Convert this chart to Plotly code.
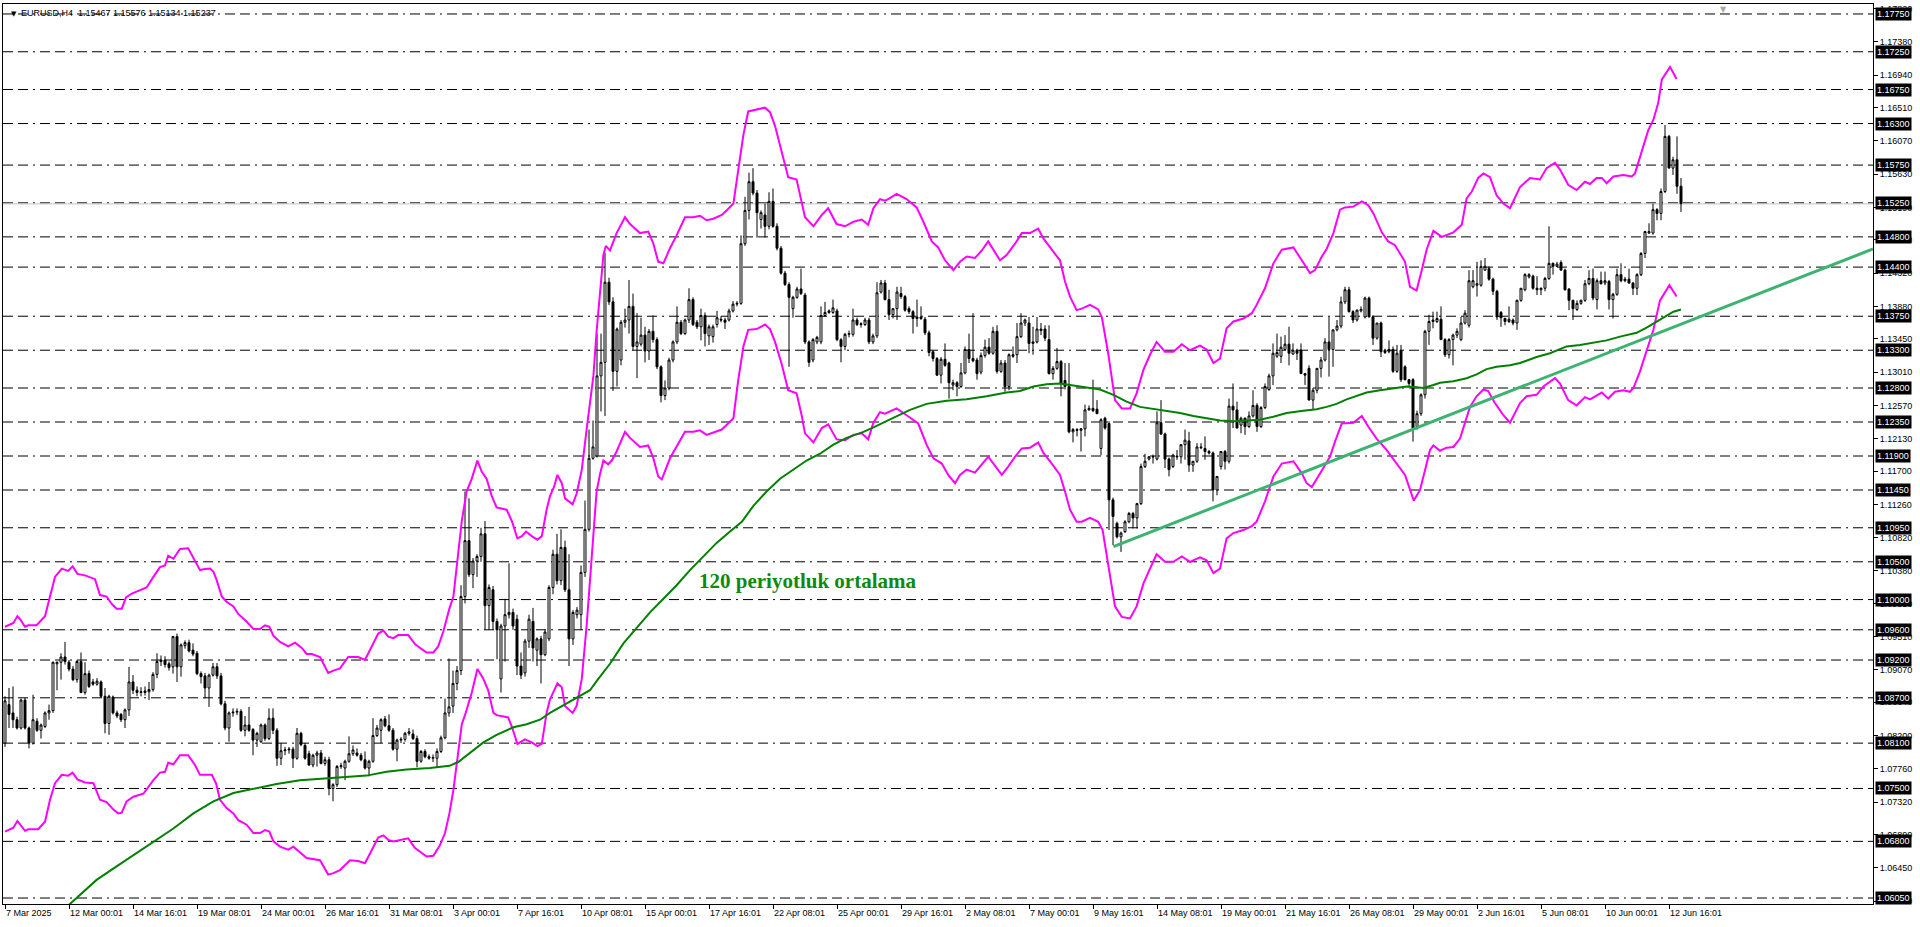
import plotly.graph_objects as go

PIP = 10000.0  # prices below are stored in pips (price * 10000)

opens = [
10810,10861,10850,10841,10830,10867,10830,10810,10839,10827,
10832,10850,10853,10915,10917,10924,10917,10908,10894,10918,
10877,10902,10891,10888,10891,10872,10836,10871,10850,10848,
10841,10854,10891,10880,10877,10877,10878,10881,10901,10918,
10920,10915,10911,10951,10911,10939,10943,10933,10929,10902,
10899,10883,10900,10911,10899,10862,10830,10850,10851,10852,
10827,10834,10828,10814,10812,10834,10816,10843,10827,10790,
10800,10801,10802,10790,10823,10807,10796,10781,10794,10797,
10783,10788,10750,10755,10779,10777,10786,10796,10797,10794,
10788,10777,10786,10820,10827,10842,10833,10827,10802,10814,
10815,10823,10822,10816,10786,10799,10792,10790,10790,10799,
10817,10850,10859,10889,10906,11004,11078,11033,11051,11057,
11087,10992,11013,10971,10895,10965,10980,10983,10974,10912,
10903,10945,10971,10933,10948,10927,10948,11016,11060,11025,
11069,11013,10948,10980,10980,11036,11093,11187,11190,11296,
11314,11420,11394,11302,11317,11367,11370,11388,11335,11338,
11350,11329,11355,11344,11308,11270,11280,11317,11341,11367,
11352,11370,11397,11367,11361,11376,11349,11348,11364,11371,
11370,11370,11382,11391,11392,11471,11515,11553,11538,11503,
11509,11494,11527,11494,11465,11432,11417,11385,11400,11411,
11403,11341,11317,11341,11341,11376,11380,11380,11382,11344,
11335,11351,11351,11370,11364,11364,11370,11341,11349,
11407,11419,11397,11377,11385,11405,11401,11385,11381,11372,
11374,11371,11353,11328,11319,11297,11318,11313,11284,11287,
11282,11300,11331,11319,11317,11301,11323,11334,11326,11355,
11302,11313,11282,11324,11324,11348,11366,11366,11339,11341,
11356,11358,11344,11299,11306,11315,11290,11282,11222,11225,
11224,11226,11251,11253,11252,11200,11240,11233,11132,11101,
11083,11090,11103,11114,11108,11127,11176,11186,11189,11186,
11234,11219,11186,11176,11190,11189,11205,11210,11178,11183,
11202,11200,11196,11194,11145,11176,11196,11183,11256,11251,
11231,11240,11229,11243,11257,11229,11254,11278,11296,11322,
11322,11331,11338,11325,11330,11330,11299,11306,
11264,11277,11306,11317,11341,11331,11357,11362,11394,11410,
11381,11370,11382,11374,11399,11374,11346,11366,11330,11328,
11331,11302,11330,11308,11291,11291,11229,11246,11271,11355,
11370,11368,11371,11344,11324,11344,11350,11344,11366,11363,
11414,11416,11416,11436,11438,11424,11408,11380,11372,11368,
11370,11366,11396,11410,11427,11428,11412,11410,11412,11425,
11445,11441,11446,11436,11411,11396,11384,11392,11396,11418,
11425,11397,11422,11419,11421,11397,11404,11430,11422,11424,
11419,11412,11430,11458,11485,11485,11516,11511,11540,11613,
11571,11582,11547]

highs = [
10872,10883,10885,10845,10869,10870,10832,10874,10843,10836,
10852,10861,10918,10918,10929,10944,10920,10912,10920,10930,
10917,10906,10895,10896,10893,10883,10874,10873,10853,10850,
10856,10911,10900,10885,10884,10885,10891,10904,10929,10926,
10925,10918,10952,10955,10942,10946,10947,10942,10932,10905,
10903,10902,10916,10916,10903,10866,10852,10856,10856,10855,
10846,10858,10830,10825,10836,10836,10856,10856,10830,10810,
10805,10805,10805,10830,10825,10810,10800,10796,10800,10801,
10792,10792,10757,10781,10784,10788,10819,10807,10803,10797,
10799,10788,10843,10834,10843,10846,10848,10830,10816,10818,
10825,10830,10828,10820,10801,10802,10795,10795,10803,10820,
10869,10922,10906,10912,11019,11143,11134,11055,11060,11095,
11104,11020,11018,10975,10968,11001,11048,10988,10980,10930,
10948,10980,10989,10950,10952,10960,11019,11066,11087,11093,
11078,11060,10986,10990,11045,11131,11225,11237,11352,11352,
11459,11426,11400,11360,11370,11385,11423,11405,11379,11373,
11361,11358,11376,11347,11310,11290,11320,11343,11388,11370,
11372,11412,11400,11370,11385,11380,11364,11364,11382,11375,
11373,11385,11395,11395,11482,11533,11565,11571,11542,11515,
11524,11539,11544,11498,11468,11435,11420,11402,11414,11438,
11406,11343,11346,11349,11388,11394,11384,11397,11385,11346,
11353,11356,11385,11373,11367,11373,11373,11352,11420,
11423,11423,11410,11385,11414,11414,11403,11388,11383,11397,
11388,11374,11356,11330,11321,11321,11339,11315,11291,11289,
11313,11335,11352,11379,11320,11327,11344,11346,11361,11363,
11317,11317,11326,11335,11366,11379,11372,11374,11361,11374,
11366,11363,11363,11309,11333,11317,11313,11313,11227,11227,
11227,11258,11257,11291,11264,11240,11242,11236,11135,11103,
11090,11105,11116,11116,11128,11180,11193,11190,11192,11249,
11264,11221,11188,11193,11198,11205,11225,11222,11183,11207,
11207,11216,11198,11196,11163,11196,11198,11266,11286,11262,
11242,11241,11249,11277,11260,11256,11286,11299,11339,11352,
11348,11350,11361,11339,11332,11339,11300,11310,
11280,11306,11321,11346,11374,11357,11370,11401,11414,11414,
11383,11384,11388,11401,11401,11376,11366,11368,11332,11343,
11335,11337,11337,11310,11292,11293,11250,11273,11357,11377,
11381,11381,11388,11346,11346,11352,11359,11374,11383,11436,
11436,11447,11449,11452,11441,11426,11410,11382,11373,11388,
11372,11397,11412,11432,11432,11430,11428,11413,11427,11494,
11446,11447,11449,11438,11412,11397,11396,11397,11423,11436,
11438,11425,11434,11434,11423,11406,11438,11445,11427,11438,
11420,11432,11460,11488,11498,11524,11518,11544,11628,11615,
11586,11613,11558]

lows = [
10805,10830,10830,10828,10828,10828,10803,10808,10825,10816,
10830,10841,10850,10880,10894,10914,10905,10892,10890,10876,
10874,10883,10886,10886,10870,10823,10821,10848,10843,10838,
10830,10846,10875,10872,10872,10873,10867,10878,10896,10912,
10910,10906,10902,10891,10898,10935,10930,10925,10900,10889,
10869,10858,10898,10895,10860,10827,10812,10845,10847,10825,
10819,10825,10794,10805,10810,10813,10814,10822,10780,10781,
10794,10796,10777,10788,10806,10788,10780,10778,10779,10782,
10780,10741,10733,10752,10776,10761,10784,10793,10792,10786,
10775,10766,10784,10818,10810,10831,10825,10800,10786,10810,
10812,10820,10814,10778,10784,10790,10788,10785,10778,10797,
10815,10845,10850,10880,10900,10995,11030,11015,11030,11050,
10960,10960,10960,10921,10877,10918,10975,10960,10900,10895,
10898,10936,10918,10912,10889,10925,10945,11007,11020,11019,
11010,10912,10940,10975,10960,11030,11090,11185,11188,11249,
11243,11390,11276,11282,11310,11360,11352,11330,11293,11335,
11314,11317,11340,11305,11261,11264,11277,11314,11338,11350,
11350,11366,11362,11358,11343,11335,11337,11340,11360,11367,
11358,11368,11380,11388,11390,11468,11503,11535,11479,11491,
11479,11490,11492,11462,11430,11415,11308,11373,11398,11403,
11338,11308,11314,11338,11338,11374,11378,11378,11342,11314,
11330,11347,11348,11362,11360,11362,11338,11338,11346,
11405,11396,11370,11372,11370,11398,11381,11378,11352,11361,
11370,11350,11322,11315,11296,11286,11308,11266,11277,11269,
11280,11298,11313,11314,11291,11298,11320,11324,11324,11299,
11300,11275,11277,11320,11313,11346,11362,11326,11324,11339,
11350,11342,11298,11291,11304,11269,11278,11220,11208,11216,
11196,11216,11250,11248,11246,11191,11225,11092,11072,11081,
11063,11088,11101,11094,11094,11125,11174,11184,11180,11184,
11218,11174,11163,11174,11185,11180,11185,11169,11169,11181,
11199,11185,11192,11130,11138,11172,11172,11180,11227,11227,
11220,11218,11227,11241,11222,11227,11252,11276,11284,11320,
11313,11330,11310,11324,11317,11299,11284,11264,
11251,11273,11294,11315,11295,11308,11355,11359,11391,11380,
11366,11368,11380,11372,11374,11337,11344,11321,11325,11326,
11300,11300,11288,11290,11282,11209,11225,11243,11266,11337,
11359,11366,11344,11321,11319,11310,11346,11342,11364,11360,
11412,11401,11414,11435,11422,11403,11370,11361,11363,11366,
11363,11357,11394,11408,11425,11410,11403,11403,11408,11423,
11430,11440,11435,11409,11383,11370,11382,11390,11394,11416,
11396,11384,11417,11416,11384,11372,11402,11420,11420,11418,
11403,11403,11428,11452,11484,11483,11502,11502,11538,11571,
11562,11537,11513]

closes = [
10866,10848,10841,10830,10867,10830,10810,10841,10827,10834,
10850,10853,10917,10917,10924,10918,10908,10894,10918,10877,
10902,10885,10888,10892,10872,10836,10872,10850,10846,10841,
10854,10891,10880,10877,10878,10879,10881,10901,10918,10920,
10914,10910,10951,10911,10940,10943,10932,10928,10902,10898,
10883,10900,10911,10899,10862,10830,10850,10851,10852,10827,
10834,10827,10814,10823,10834,10816,10843,10827,10790,10800,
10801,10802,10790,10823,10808,10790,10781,10794,10797,10783,
10788,10750,10755,10779,10780,10786,10796,10801,10794,10788,
10777,10786,10820,10830,10841,10833,10827,10802,10814,10815,
10823,10825,10816,10786,10799,10792,10790,10791,10799,10817,
10850,10858,10889,10906,11004,11078,11033,11051,11057,11087,
10992,11016,10971,10960,10965,10980,10983,10965,10912,10900,
10945,10974,10936,10948,10927,10957,11016,11060,11025,11069,
11013,10948,10983,10986,11036,11093,11187,11202,11296,11314,
11420,11394,11302,11358,11367,11370,11388,11335,11341,11350,
11329,11355,11344,11308,11270,11280,11317,11341,11367,11352,
11370,11397,11364,11361,11376,11352,11361,11361,11373,11370,
11367,11382,11391,11392,11471,11515,11553,11538,11512,11512,
11494,11527,11494,11465,11432,11417,11400,11400,11411,11405,
11341,11314,11344,11347,11376,11380,11382,11386,11344,11335,
11351,11352,11370,11364,11365,11370,11341,11349,11406,
11419,11397,11377,11385,11407,11401,11383,11381,11372,11374,
11372,11353,11327,11319,11297,11318,11310,11287,11287,11282,
11300,11331,11319,11316,11299,11323,11334,11326,11355,11302,
11313,11282,11324,11322,11348,11366,11370,11339,11341,11358,
11358,11346,11299,11306,11315,11286,11282,11222,11225,11224,
11226,11251,11253,11250,11246,11238,11227,11132,11110,11083,
11088,11103,11114,11108,11127,11176,11183,11189,11189,11234,
11219,11186,11172,11191,11189,11205,11211,11178,11183,11202,
11201,11196,11194,11145,11163,11196,11183,11256,11251,11227,
11240,11229,11243,11257,11229,11254,11282,11296,11326,11327,
11334,11338,11326,11330,11326,11299,11297,11264,
11277,11306,11317,11341,11331,11357,11362,11394,11410,11381,
11370,11383,11384,11399,11374,11346,11366,11328,11327,11331,
11302,11326,11291,11291,11286,11227,11246,11271,11355,11368,
11368,11372,11344,11324,11344,11350,11355,11366,11379,11422,
11422,11418,11441,11441,11424,11408,11374,11373,11368,11371,
11366,11396,11412,11430,11430,11412,11410,11412,11425,11445,
11441,11444,11436,11410,11396,11385,11392,11396,11418,11425,
11399,11422,11418,11422,11397,11404,11430,11422,11424,11419,
11412,11430,11458,11487,11487,11516,11511,11540,11613,11571,
11582,11547,11524]

# Bollinger upper band (bar index, pips)
upper_bar = [0,2.1,3.1,3.9,5,5.8,7.9,10,11.25,12.5,14.2,15.8,16.9,18.1,20,22.5,23.75,25.4,26.7,27.9,29.2,30.25,31.7,33.75,35.4,37.1,38.75,40,40.8,42.1,43.75,45.8,47.5,48.75,49.6,51.25,52.1,52.9,54.2,55.4,57.1,58.3,60.4,62.1,63.75,65,66.1,67.1,68.75,70.8,72.5,74.2,75.4,76.7,78.75,80.8,82.1,83.75,85.8,88.3,90,91.25,93.3,94.6,95.8,97.1,98.3,100.8,102.5,103.75,105.4,107.1,108.3,109.6,111.1,112.1,113.3,114.2,115.4,116.7,118.1,119.2,120.4,121.7,122.9,125.4,126.7,128.1,129.2,130.25,131.7,133.1,134.2,135.4,136.25,137.25,138.1,139.2,140,141.9,142.9,144.2,145.4,146.25,147.1,147.9,148.75,149.6,150.2,151.25,152.9,155,156.25,158.75,160.8,162.1,163.3,164.6,166.25,167.9,170,172.1,173.75,175.4,177.1,179.2,180.4,182.1,183.3,184.6,185.8,187.9,190,191.25,192.5,194.2,195.8,197.9,199.2,200,202.1,204.2,205.8,207.9,210,212.1,214.2,215.8,217.1,218.75,220,220.8,222.9,225.4,227.9,229.6,231.7,233.3,235,237.1,238.75,240.4,242.5,244.2,245.8,247.1,248.75,250.4,252.5,254.2,256.25,258.3,259.6,261.7,263.75,265,266.25,267.9,269.2,271.25,273.3,274.2,275.8,277.5,279.2,281.25,282.9,284.6,286.25,287.9,290,292.1,294.2,296.25,298.75,300.4,302.1,303.75,305.4,307.1,309.6,311.7,312.9,315,317.1,319.2,322.1,324.2,326.25,327.5,329.2,330.4,332.1,333.75,335,337.1,339.2,340.8,342.1,344.2,345.8,347.5,350,351.25,352.9,354.2,355.4,357.1,359.2,362.1,364.2,365.4,366.7,368.3,369.6,371.25,372.9,374.6,376.25,378.75,381.25,383.75,385.4,387.5,388.75,390.8,392.9,395,396.25,397.9,399.2,400.4,402.1,404.6,406.7,407.5,409.2,410.8,412.1,413.3,414.2,416.25,417.9]
upper_pips = [10964,10969,10978,10973,10964,10966,10966,10978,11004,11030,11041,11038,11044,11034,11032,11027,11006,11004,10994,10988,10988,11003,11008,11012,11016,11030,11043,11045,11058,11054,11067,11068,11052,11039,11040,11041,11037,11026,11004,10997,10991,10981,10971,10961,10961,10966,10964,10952,10944,10938,10943,10936,10928,10928,10924,10903,10906,10909,10924,10924,10920,10933,10955,10959,10951,10949,10953,10953,10941,10936,10930,10930,10938,10958,10988,11004,11066,11104,11143,11160,11184,11169,11160,11137,11122,11119,11104,11081,11084,11090,11084,11079,11084,11119,11137,11149,11165,11154,11134,11126,11140,11172,11225,11261,11296,11355,11409,11456,11468,11462,11485,11506,11497,11485,11487,11471,11447,11445,11465,11482,11506,11506,11508,11502,11504,11509,11515,11524,11568,11615,11646,11648,11651,11645,11627,11592,11559,11556,11527,11506,11494,11509,11518,11497,11494,11500,11503,11496,11518,11530,11528,11530,11537,11530,11519,11500,11474,11466,11449,11436,11447,11454,11452,11462,11474,11463,11449,11456,11471,11485,11485,11491,11478,11463,11449,11421,11401,11383,11385,11390,11384,11374,11326,11264,11253,11253,11273,11304,11324,11341,11328,11328,11338,11330,11336,11331,11313,11319,11359,11368,11372,11379,11390,11412,11445,11463,11466,11449,11432,11436,11454,11464,11485,11516,11519,11520,11527,11522,11511,11486,11474,11469,11447,11414,11409,11436,11463,11488,11480,11486,11496,11531,11540,11558,11564,11559,11535,11524,11518,11546,11558,11556,11571,11578,11569,11549,11542,11553,11550,11558,11558,11551,11560,11562,11560,11564,11595,11621,11635,11657,11688,11705,11689]

# Bollinger lower band (bar index, pips)
lower_bar = [0,2.1,3.1,5,5.8,8.3,10,11.25,12.5,14.2,15.8,16.9,18.1,20,22.1,23.75,25.4,27.1,28.3,29.2,30.4,32.1,34.6,35.8,37.1,38.75,40,40.8,42.1,43.75,45.8,47.5,48.75,51.7,52.75,53.75,55.4,57.1,58.3,60.4,62.1,63.75,65,66.1,67.1,68.75,70.8,72.1,74.2,75.4,78.75,80.8,82.1,83.75,86.25,88.3,90,91.25,93.3,94.6,95.8,97.1,100.8,102.5,104.2,105.4,107.1,108.75,110,111.1,112.1,114.2,115,116.7,118.1,119.6,120.8,122.1,122.9,125.8,126.7,128.1,130,131.7,133.1,134.2,135.4,136.25,138.1,139.2,140,141.9,142.9,144.2,145.4,146.25,147.1,147.9,148.75,149.6,150.8,151.7,152.9,155,156.25,158.75,160.8,162.1,163.3,164.2,166.25,167.9,170,172.1,173.75,175.4,177.1,179.2,180.4,182.1,183.3,184.6,185.8,187.9,190,191.25,192.5,194.2,195.8,197.9,199.2,200,202.1,204.2,205.8,207.9,210,212.1,214.2,215.8,217.1,218.75,220,222.9,225.4,228.3,230.4,232.1,234.2,235.8,237.5,238.75,240.4,242.5,244.2,245.8,247.1,249.2,250.8,252.5,254.2,256.25,258.3,259.6,261.7,263.75,265,266.25,267.9,269.2,271.25,273.3,274.4,275.8,277.5,279.2,281.25,282.9,284.6,286.25,287.9,290,292.1,294.2,296.25,298.75,300.4,302.1,303.75,305.4,307.1,309.6,311.7,312.9,315,317.1,319.2,322.1,324.2,325.4,326.7,328.3,329.6,331.25,332.5,334.2,337.1,339.2,340.8,342.9,345.4,347.9,350,352.2,353.75,355,356.25,357.1,358.75,360.4,362.1,363.75,365,366.25,367.9,369.6,370.8,372.5,374.6,376.25,378.75,380.4,382.9,384.6,387.5,388.75,390.8,392.9,395,396.25,399.2,400.8,402.5,404.6,406.25,407.1,408.75,410.4,412.1,413.75,416.1,417.9]
lower_pips = [10693,10698,10707,10694,10696,10696,10706,10735,10757,10768,10767,10771,10762,10758,10757,10735,10732,10722,10717,10718,10733,10739,10743,10752,10761,10771,10772,10784,10782,10794,10794,10781,10768,10768,10757,10735,10724,10717,10708,10702,10691,10691,10695,10693,10680,10673,10669,10673,10664,10658,10655,10636,10638,10642,10655,10654,10651,10664,10685,10688,10682,10680,10684,10671,10664,10660,10661,10675,10691,10717,10748,10835,10847,10877,10908,10895,10880,10850,10847,10844,10832,10809,10815,10811,10806,10809,10850,10868,10889,10884,10859,10850,10859,10895,10965,11024,11084,11143,11166,11184,11179,11184,11196,11222,11214,11202,11204,11187,11163,11159,11187,11202,11222,11222,11224,11218,11221,11225,11231,11240,11290,11335,11357,11358,11364,11358,11341,11311,11277,11273,11243,11220,11208,11227,11232,11212,11211,11218,11220,11212,11234,11248,11246,11253,11244,11233,11205,11187,11180,11165,11154,11165,11172,11168,11179,11189,11180,11165,11176,11189,11200,11201,11208,11194,11180,11165,11143,11119,11103,11103,11108,11103,11092,11044,10991,10977,10975,10991,11021,11041,11060,11050,11050,11057,11050,11056,11052,11035,11041,11081,11088,11092,11097,11103,11130,11163,11180,11183,11167,11154,11149,11163,11174,11189,11209,11233,11234,11243,11229,11213,11198,11180,11165,11131,11145,11171,11198,11204,11197,11201,11202,11213,11233,11255,11269,11278,11276,11260,11244,11234,11260,11269,11271,11282,11293,11286,11264,11257,11268,11265,11274,11266,11275,11277,11275,11280,11302,11328,11357,11396,11416,11401]

# 120-period moving average (bar index, pips)
ma_bar = [16,22.9,27.9,32.1,37.1,42.1,47.1,52.1,57.1,62.1,67.9,73.75,78.75,83.75,90.4,95.4,100.4,106.25,111.1,113.3,116.25,119.6,122.9,127.1,130.4,133.75,136.25,139.6,142.9,146.25,147.9,151.25,154.6,157.9,161.25,164.6,167.9,171.25,174.6,177.9,181.25,184.2,187.1,190.4,193.75,197.1,200.4,203.75,207.1,210.4,214.6,217.1,222.1,226.25,230.4,235.4,240.4,245.4,250.4,253.75,257.1,260.4,263.75,267.1,270.4,273.75,277.1,280.4,283.75,287.1,290.4,293.75,297.1,300.4,303.75,307.1,310.4,313.75,317.1,320.4,324.6,327.9,330.4,332.9,335.4,337.9,340.4,343.75,347.1,350.4,352.9,354.6,357.1,358.75,362.1,365.4,367.9,370.4,372.9,376.25,378.75,380.4,382.9,386.25,387.9,390.4,393.75,397.1,400.4,403.75,407.9,410.4,412.9,415.4,417.1,419]
ma_pips = [10596,10629,10647,10662,10680,10697,10717,10733,10744,10750,10756,10761,10763,10764,10767,10772,10775,10777,10780,10785,10797,10811,10821,10831,10835,10841,10850,10860,10870,10880,10892,10915,10942,10962,10983,11001,11019,11039,11057,11075,11090,11103,11124,11143,11160,11172,11184,11193,11205,11214,11222,11228,11241,11251,11259,11263,11265,11269,11274,11276,11282,11285,11286,11283,11281,11278,11271,11262,11255,11252,11250,11247,11243,11240,11237,11236,11237,11238,11242,11247,11250,11252,11255,11259,11265,11269,11274,11277,11280,11282,11281,11280,11284,11287,11289,11293,11298,11305,11308,11310,11313,11316,11321,11326,11330,11335,11337,11340,11343,11348,11353,11360,11368,11375,11381,11384]

# Trend line anchors (bar index, pips)
trend_bar = [277.1, 467.0]
trend_pips = [11070, 11464]

# Horizontal price levels (dash-dot lines with black price boxes)
levels = [1.1775, 1.1725, 1.1675, 1.1630, 1.1575, 1.1525, 1.1480, 1.1440, 1.1375, 1.1330,
          1.1280, 1.1235, 1.1190, 1.1145, 1.1095, 1.1050, 1.1000, 1.0960, 1.0920, 1.0870,
          1.0810, 1.0750, 1.0680, 1.0605]

# Regular price-axis ticks
axis_ticks = [1.1782, 1.1738, 1.1694, 1.1651, 1.1607, 1.1563, 1.1519, 1.1476, 1.1432, 1.1388,
              1.1345, 1.1301, 1.1257, 1.1213, 1.1170, 1.1126, 1.1082, 1.1038, 1.0995, 1.0951,
              1.0907, 1.0864, 1.0820, 1.0776, 1.0732, 1.0689, 1.0645, 1.0601]

# Time-axis labels (one every 16 H4 bars)
time_labels = ["7 Mar 2025", "12 Mar 00:01", "14 Mar 16:01", "19 Mar 08:01", "24 Mar 00:01",
               "26 Mar 16:01", "31 Mar 08:01", "3 Apr 00:01", "7 Apr 16:01", "10 Apr 08:01",
               "15 Apr 00:01", "17 Apr 16:01", "22 Apr 08:01", "25 Apr 00:01", "29 Apr 16:01",
               "2 May 08:01", "7 May 00:01", "9 May 16:01", "14 May 08:01", "19 May 00:01",
               "21 May 16:01", "26 May 08:01", "29 May 00:01", "2 Jun 16:01", "5 Jun 08:01",
               "10 Jun 00:01", "12 Jun 16:01"]
label_step = 16

bid_price = 1.15237
header_text = "EURUSD,H4  1.15467 1.15576 1.15134 1.15237"
ma_text = "120 periyotluk ortalama"
ma_text_pos = (173, 1.1025)

n = min(len(opens), len(highs), len(lows), len(closes))
bars = list(range(n))

def px(vals):
    return [v / PIP for v in vals]

fig = go.Figure()

fig.add_trace(go.Candlestick(
    x=bars, open=px(opens[:n]), high=px(highs[:n]), low=px(lows[:n]), close=px(closes[:n]),
    increasing=dict(line=dict(color="black", width=1), fillcolor="white"),
    decreasing=dict(line=dict(color="black", width=1), fillcolor="black"),
    whiskerwidth=0, showlegend=False, hoverinfo="skip"))

fig.add_trace(go.Scatter(x=upper_bar, y=px(upper_pips), mode="lines",
                         line=dict(color="#FF00FF", width=2), showlegend=False, hoverinfo="skip"))
fig.add_trace(go.Scatter(x=lower_bar, y=px(lower_pips), mode="lines",
                         line=dict(color="#FF00FF", width=2), showlegend=False, hoverinfo="skip"))
fig.add_trace(go.Scatter(x=ma_bar, y=px(ma_pips), mode="lines",
                         line=dict(color="#008000", width=2), showlegend=False, hoverinfo="skip"))
fig.add_trace(go.Scatter(x=trend_bar, y=px(trend_pips), mode="lines",
                         line=dict(color="#3CB371", width=3), showlegend=False, hoverinfo="skip"))

shapes = []
for lv in levels:
    shapes.append(dict(type="line", xref="paper", x0=0, x1=1, yref="y", y0=lv, y1=lv,
                       line=dict(color="black", width=1, dash="10px,5px,10px,5px,2px,5px"),
                       layer="below"))
shapes.append(dict(type="line", xref="paper", x0=0, x1=1, yref="y", y0=bid_price, y1=bid_price,
                   line=dict(color="#C0C0C0", width=1), layer="below"))

annotations = []
for lv in levels:
    annotations.append(dict(x=1, xref="paper", xanchor="left", xshift=2,
                            y=lv, yref="y", yanchor="middle",
                            text=f"{lv:.5f}", showarrow=False, bgcolor="black", borderpad=1,
                            font=dict(family="Liberation Sans", size=9, color="white")))
for i, lab in enumerate(time_labels):
    annotations.append(dict(x=i * label_step, xref="x", xanchor="left", xshift=-1,
                            y=0, yref="paper", yanchor="top", yshift=-2,
                            text=lab, showarrow=False,
                            font=dict(family="Liberation Sans", size=9, color="black")))
annotations.append(dict(x=0, xref="paper", xanchor="left", xshift=16, y=1, yref="paper",
                        yanchor="top", yshift=-2, text=header_text, showarrow=False,
                        font=dict(family="Liberation Sans", size=9, color="black")))
annotations.append(dict(x=0, xref="paper", xanchor="left", xshift=6, y=1, yref="paper",
                        yanchor="top", yshift=-4, text="▼", showarrow=False,
                        font=dict(family="DejaVu Sans", size=7, color="black")))
annotations.append(dict(x=0.9198, xref="paper", xanchor="center", y=1, yref="paper",
                        yanchor="top", yshift=1, text="▼", showarrow=False,
                        font=dict(family="DejaVu Sans", size=8, color="#A8A8A8")))
annotations.append(dict(x=ma_text_pos[0], xref="x", xanchor="left", y=ma_text_pos[1], yref="y",
                        yanchor="middle", text=f"<b>{ma_text}</b>", showarrow=False,
                        font=dict(family="Liberation Serif", size=21, color="#0E8A0E")))

fig.update_layout(
    width=1920, height=927,
    margin=dict(l=3, r=47, t=4, b=23, pad=0),
    paper_bgcolor="white", plot_bgcolor="white",
    shapes=shapes, annotations=annotations,
    showlegend=False,
    xaxis=dict(range=[-0.5, 467], showgrid=False, zeroline=False, showline=True,
               linecolor="black", linewidth=1, mirror=True, ticks="outside", ticklen=4,
               tickcolor="black", tickvals=[i * label_step for i in range(len(time_labels))],
               showticklabels=False, rangeslider=dict(visible=False), fixedrange=True),
    yaxis=dict(side="right", range=[1.05971, 1.17882], showgrid=False, zeroline=False,
               showline=True, linecolor="black", linewidth=1, mirror=True,
               ticks="outside", ticklen=4, tickcolor="black",
               tickvals=axis_ticks, ticktext=[f"{t:.5f}" for t in axis_ticks],
               tickfont=dict(family="Liberation Sans", size=9, color="black"),
               fixedrange=True),
)

fig.write_html("out.html", config={"displayModeBar": False},
               post_script="document.body.style.margin='0';document.body.style.overflow='hidden';")
